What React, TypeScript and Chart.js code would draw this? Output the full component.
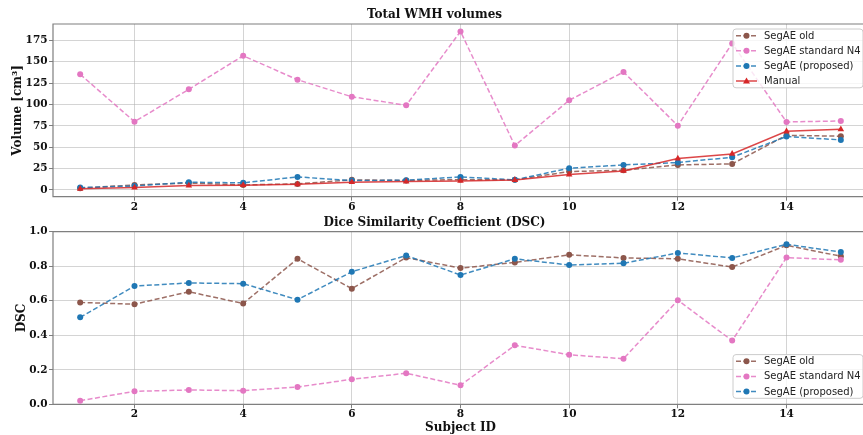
import React, { useEffect, useRef } from "react";
import { Chart, registerables } from "chart.js";

Chart.register(...registerables);

const subjects = [1, 2, 3, 4, 5, 6, 7, 8, 9, 10, 11, 12, 13, 14, 15];

// Total WMH volumes [cm³]
const volOld = [2, 5.8, 8, 5.8, 7, 11.7, 11, 12, 11.7, 21.4, 23, 29.2, 30.4, 63.9, 62.8];
const volN4 = [135.3, 79.8, 117.7, 157, 129, 109, 99, 185.5, 51.8, 104.9, 138, 75.2, 171.5, 79.5, 80.7];
const volProposed = [2.7, 4.5, 9, 8.2, 15.2, 10.9, 11.3, 15.2, 11.7, 25.4, 29.2, 32, 38.2, 62.4, 58.5];
const volManual = [1.2, 2.7, 5, 5.5, 6.6, 9, 9.7, 10.5, 11.5, 17.9, 22.2, 36.6, 42.1, 68.6, 71];

// Dice similarity coefficient
const dscOld = [0.59, 0.58, 0.652, 0.584, 0.843, 0.67, 0.85, 0.789, 0.822, 0.866, 0.848, 0.843, 0.795, 0.921, 0.858];
const dscN4 = [0.021, 0.075, 0.083, 0.079, 0.1, 0.145, 0.18, 0.11, 0.342, 0.287, 0.264, 0.603, 0.369, 0.85, 0.837];
const dscProposed = [0.504, 0.685, 0.703, 0.699, 0.606, 0.768, 0.862, 0.749, 0.843, 0.807, 0.817, 0.877, 0.848, 0.927, 0.882];

const xTicks = [2, 4, 6, 8, 10, 12, 14];
const volTicks = [0, 25, 50, 75, 100, 125, 150, 175];
const dscTicks = [0, 0.2, 0.4, 0.6, 0.8, 1.0];

const labelOld = "SegAE old";
const labelN4 = "SegAE standard N4";
const labelProposed = "SegAE (proposed)";
const labelManual = "Manual";

const BROWN = "#8c564b";
const PINK = "#e377c2";
const BLUE = "#1f77b4";
const RED = "#d62728";

const alpha = (hex: string, a: number) => {
  const r = parseInt(hex.slice(1, 3), 16);
  const g = parseInt(hex.slice(3, 5), 16);
  const b = parseInt(hex.slice(5, 7), 16);
  return `rgba(${r},${g},${b},${a})`;
};

const SERIF = "'DejaVu Serif', serif";
const SANS = "'DejaVu Sans', sans-serif";
const GRID = "rgba(176,176,176,0.55)";
const SPINE = "#7f7f7f";

type Item = { label: string; color: string; dashed: boolean; style: string };

const frameAndLegend = {
  id: "frameLegend",
  beforeDatasetsDraw(chart: any) {
    const { ctx, chartArea: a } = chart;
    ctx.save();
    ctx.strokeStyle = SPINE;
    ctx.lineWidth = 1.2;
    ctx.beginPath();
    ctx.moveTo(a.right, a.top);
    ctx.lineTo(a.left, a.top);
    ctx.lineTo(a.left, a.bottom);
    ctx.lineTo(a.right, a.bottom);
    ctx.stroke();
    ctx.restore();
  },
  afterDraw(chart: any, _args: any, opts: any) {
    const items: Item[] = opts.items || [];
    if (!items.length) return;
    const { ctx, chartArea: a } = chart;
    const rowH = 15.1;
    const w = 130;
    const h = (items.length - 1) * rowH + 13.5;
    const right = a.right - 5;
    const left = right - w;
    const top = opts.corner === "bottom" ? a.bottom - 6 - h : a.top + 5;
    ctx.save();
    ctx.beginPath();
    const r = 3;
    ctx.moveTo(left + r, top);
    ctx.arcTo(right, top, right, top + h, r);
    ctx.arcTo(right, top + h, left, top + h, r);
    ctx.arcTo(left, top + h, left, top, r);
    ctx.arcTo(left, top, right, top, r);
    ctx.closePath();
    ctx.fillStyle = "rgba(255,255,255,0.8)";
    ctx.fill();
    ctx.strokeStyle = "#cccccc";
    ctx.lineWidth = 1;
    ctx.stroke();
    items.forEach((it, i) => {
      const y = top + 6.7 + i * rowH;
      ctx.beginPath();
      ctx.strokeStyle = alpha(it.color, 0.85);
      ctx.lineWidth = 1.5;
      ctx.setLineDash(it.dashed ? [5, 2.5] : []);
      ctx.moveTo(left + 3, y);
      ctx.lineTo(left + 24, y);
      ctx.stroke();
      ctx.setLineDash([]);
      ctx.fillStyle = it.color;
      ctx.beginPath();
      const mx = left + 13.5;
      if (it.style === "triangle") {
        ctx.moveTo(mx, y - 3.5);
        ctx.lineTo(mx + 3.5, y + 2.5);
        ctx.lineTo(mx - 3.5, y + 2.5);
        ctx.closePath();
      } else {
        ctx.arc(mx, y, 3, 0, Math.PI * 2);
      }
      ctx.fill();
      ctx.fillStyle = "#222";
      ctx.font = `10px ${SANS}`;
      ctx.textBaseline = "middle";
      ctx.textAlign = "left";
      ctx.fillText(it.label, left + 31, y + 0.5);
    });
    ctx.restore();
  },
};

const mkSet = (label: string, data: number[], color: string, dashed: boolean, style: string, order: number) => ({
  label,
  data: subjects.map((x, i) => ({ x, y: data[i] })),
  borderColor: alpha(color, 0.85),
  backgroundColor: color,
  pointBackgroundColor: color,
  pointBorderColor: color,
  pointBorderWidth: 0,
  borderWidth: 1.5,
  borderDash: dashed ? [5, 2.5] : [],
  pointStyle: style,
  pointRadius: style === "triangle" ? 3.8 : 3,
  tension: 0,
  order,
});

const xScale = (height: number, title?: string) => ({
  type: "linear" as const,
  min: 0.5,
  max: 15.5,
  afterBuildTicks: (axis: any) => {
    axis.ticks = xTicks.map((v) => ({ value: v }));
  },
  afterFit: (axis: any) => {
    axis.height = height;
  },
  grid: { color: GRID, lineWidth: 1, tickLength: 4, tickColor: SPINE, drawTicks: true },
  border: { display: false },
  ticks: {
    font: { family: SERIF, weight: "bold" as const, size: 10.5 },
    color: "#111",
    padding: 0,
    maxRotation: 0,
    autoSkip: false,
  },
  title: title
    ? {
        display: true,
        text: title,
        font: { family: SERIF, weight: "bold" as const, size: 12 },
        color: "#111",
        padding: { top: 0, bottom: 0 },
      }
    : { display: false },
});

const yScale = (min: number, max: number, ticks: number[], title: string, titlePad: number, fmt: (v: number) => string) => ({
  type: "linear" as const,
  min,
  max,
  afterBuildTicks: (axis: any) => {
    axis.ticks = ticks.map((v) => ({ value: v }));
  },
  afterFit: (axis: any) => {
    axis.width = 53;
  },
  grid: { color: GRID, lineWidth: 1, tickLength: 4, tickColor: SPINE },
  border: { display: false },
  ticks: {
    font: { family: SERIF, weight: "bold" as const, size: 10.5 },
    color: "#111",
    padding: 1.5,
    callback: (v: any) => fmt(Number(v)),
  },
  title: {
    display: true,
    text: title,
    font: { family: SERIF, weight: "bold" as const, size: 12 },
    color: "#111",
    padding: { top: titlePad, bottom: 0 },
  },
});

const titleOpts = (text: string, top: number, bottom: number) => ({
  display: true,
  text,
  font: { family: SERIF, weight: "bold" as const, size: 12 },
  color: "#111",
  padding: { top, bottom },
});

export default function App() {
  const topRef = useRef<HTMLCanvasElement>(null);
  const botRef = useRef<HTMLCanvasElement>(null);

  useEffect(() => {
    const c1 = new Chart(topRef.current as HTMLCanvasElement, {
      type: "line",
      data: {
        datasets: [
          mkSet(labelOld, volOld, BROWN, true, "circle", 3),
          mkSet(labelN4, volN4, PINK, true, "circle", 2),
          mkSet(labelProposed, volProposed, BLUE, true, "circle", 1),
          mkSet(labelManual, volManual, RED, false, "triangle", 0),
        ] as any,
      },
      options: {
        animation: false,
        responsive: false,
        devicePixelRatio: 1,
        layout: { padding: { left: 0, right: 3, top: 0, bottom: 0 } },
        scales: {
          x: xScale(18.3),
          y: yScale(-8, 194.2, volTicks, "Volume [cm³]", 10.8, (v) => String(v)),
        } as any,
        plugins: {
          legend: { display: false },
          tooltip: { enabled: false },
          title: titleOpts("Total WMH volumes", 8, 1.6),
          frameLegend: {
            corner: "top",
            items: [
              { label: labelOld, color: BROWN, dashed: true, style: "circle" },
              { label: labelN4, color: PINK, dashed: true, style: "circle" },
              { label: labelProposed, color: BLUE, dashed: true, style: "circle" },
              { label: labelManual, color: RED, dashed: false, style: "triangle" },
            ],
          },
        } as any,
      },
      plugins: [frameAndLegend],
    });

    const c2 = new Chart(botRef.current as HTMLCanvasElement, {
      type: "line",
      data: {
        datasets: [
          mkSet(labelOld, dscOld, BROWN, true, "circle", 3),
          mkSet(labelN4, dscN4, PINK, true, "circle", 2),
          mkSet(labelProposed, dscProposed, BLUE, true, "circle", 1),
        ] as any,
      },
      options: {
        animation: false,
        responsive: false,
        devicePixelRatio: 1,
        layout: { padding: { left: 0, right: 3, top: 0, bottom: 0 } },
        scales: {
          x: xScale(30.7, "Subject ID"),
          y: yScale(0, 1, dscTicks, "DSC", 14.8, (v) => v.toFixed(1)),
        } as any,
        plugins: {
          legend: { display: false },
          tooltip: { enabled: false },
          title: titleOpts("Dice Similarity Coefficient (DSC)", 1, 1.3),
          frameLegend: {
            corner: "bottom",
            items: [
              { label: labelOld, color: BROWN, dashed: true, style: "circle" },
              { label: labelN4, color: PINK, dashed: true, style: "circle" },
              { label: labelProposed, color: BLUE, dashed: true, style: "circle" },
            ],
          },
        } as any,
      },
      plugins: [frameAndLegend],
    });

    return () => {
      c1.destroy();
      c2.destroy();
    };
  }, []);

  return (
    <div
      style={{
        position: "fixed",
        left: 0,
        top: 0,
        width: 863,
        height: 435,
        overflow: "hidden",
        background: "#fff",
      }}
    >
      <canvas ref={topRef} width={872} height={215} style={{ position: "absolute", left: 0, top: 0 }} />
      <canvas ref={botRef} width={872} height={220} style={{ position: "absolute", left: 0, top: 215 }} />
    </div>
  );
}
